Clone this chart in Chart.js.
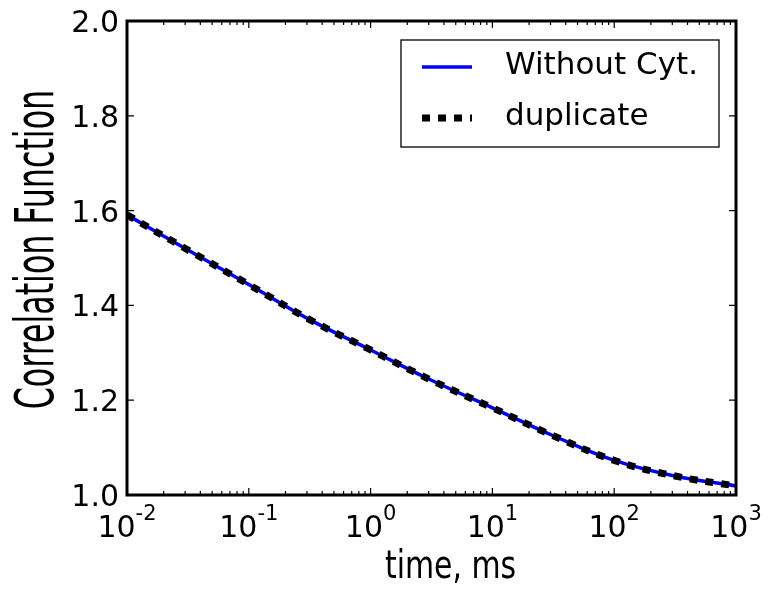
<!DOCTYPE html>
<html>
<head>
<meta charset="utf-8">
<script src="https://cdn.jsdelivr.net/npm/chart.js@4"></script>
<style>
  html, body { margin: 0; padding: 0; background: #fff; }
  #wrap { width: 767px; height: 590px; }
</style>
</head>
<body>
<div id="wrap"><canvas id="corrChart" width="767" height="590"></canvas></div>
<script>
// values
const times = [0.01, 0.0316, 0.1, 0.316, 1, 3.16, 10, 31.6, 100, 316, 1000];
const withoutCyt = [1.591, 1.517, 1.444, 1.370, 1.306, 1.242, 1.184, 1.125, 1.073, 1.040, 1.019];
const duplicate = [1.591, 1.517, 1.444, 1.370, 1.306, 1.242, 1.184, 1.125, 1.073, 1.040, 1.019];
const seriesNames = ['Without Cyt.', 'duplicate'];
const xExponents = [-2, -1, 0, 1, 2, 3];
const yTicks = [1.0, 1.2, 1.4, 1.6, 1.8, 2.0];

const TICK_FONT = '30px "DejaVu Sans"';
const SUP_FONT = '21px "DejaVu Sans"';
const LEG_FONT = '31px "DejaVu Sans"';

// draw text squeezed so its ink fits a given length
function squeezedText(ctx, text, font, len) {
  ctx.font = font;
  const m = ctx.measureText(text);
  const w = m.actualBoundingBoxRight + m.actualBoundingBoxLeft;
  ctx.save();
  ctx.scale(len / w, 1);
  ctx.fillText(text, m.actualBoundingBoxLeft, 0);
  ctx.restore();
}

const framePlugin = {
  id: 'frame',
  afterDatasetsDraw(chart) {
    const ctx = chart.ctx;
    const a = chart.chartArea;
    const xs = chart.scales.x, ys = chart.scales.y;
    ctx.save();
    ctx.strokeStyle = '#000';

    // ticks, inside, on all four sides
    ctx.lineWidth = 1.2;
    ctx.beginPath();
    xExponents.forEach(function (e, i) {
      const base = Math.pow(10, e);
      const px = xs.getPixelForValue(base);
      ctx.moveTo(px, a.bottom); ctx.lineTo(px, a.bottom - 7);
      ctx.moveTo(px, a.top); ctx.lineTo(px, a.top + 7);
      if (i < xExponents.length - 1) {
        for (let k = 2; k <= 9; k++) {
          const mx = xs.getPixelForValue(base * k);
          ctx.moveTo(mx, a.bottom); ctx.lineTo(mx, a.bottom - 4);
          ctx.moveTo(mx, a.top); ctx.lineTo(mx, a.top + 4);
        }
      }
    });
    yTicks.forEach(function (v) {
      const py = ys.getPixelForValue(v);
      ctx.moveTo(a.left, py); ctx.lineTo(a.left + 7, py);
      ctx.moveTo(a.right, py); ctx.lineTo(a.right - 7, py);
    });
    ctx.stroke();

    // frame
    ctx.lineWidth = 3;
    ctx.strokeRect(a.left, a.top, a.right - a.left, a.bottom - a.top);

    // y tick labels
    ctx.fillStyle = '#000';
    ctx.font = TICK_FONT;
    ctx.textAlign = 'right';
    ctx.textBaseline = 'alphabetic';
    yTicks.forEach(function (v) {
      ctx.fillText(v.toFixed(1), a.left - 8, ys.getPixelForValue(v) + 11);
    });

    // x tick labels as 10 with a raised exponent
    ctx.textAlign = 'left';
    xExponents.forEach(function (e) {
      const px = xs.getPixelForValue(Math.pow(10, e));
      const ex = e < 0 ? '-' + Math.abs(e) : String(e);
      ctx.font = TICK_FONT;
      const w1 = ctx.measureText('10').width;
      ctx.font = SUP_FONT;
      const w2 = ctx.measureText(ex).width;
      const x0 = px - (w1 + w2) / 2;
      ctx.font = TICK_FONT;
      ctx.fillText('10', x0, 537);
      ctx.font = SUP_FONT;
      ctx.fillText(ex, x0 + w1, 520);
    });

    // axis titles in a narrow face
    ctx.save();
    ctx.translate(385, 578);
    squeezedText(ctx, 'time, ms', '39px "DejaVu Sans Condensed", "DejaVu Sans"', 130);
    ctx.restore();

    ctx.save();
    ctx.translate(53, 408);
    ctx.rotate(-Math.PI / 2);
    squeezedText(ctx, 'Correlation Function', '300 53px "DejaVu Sans Condensed", "DejaVu Sans"', 316);
    ctx.restore();

    // legend box
    const lx = 401, ly = 40, lw = 318, lh = 107;
    ctx.fillStyle = '#fff';
    ctx.fillRect(lx, ly, lw, lh);
    ctx.lineWidth = 1.3;
    ctx.strokeStyle = '#000';
    ctx.strokeRect(lx, ly, lw, lh);

    const ds = chart.data.datasets;
    const rows = [67, 118];
    ds.forEach(function (d, i) {
      const yy = rows[i];
      ctx.save();
      ctx.strokeStyle = d.borderColor;
      ctx.lineWidth = d.borderWidth;
      ctx.setLineDash(d.borderDash || []);
      ctx.lineCap = 'butt';
      ctx.beginPath();
      ctx.moveTo(422, yy);
      ctx.lineTo(472, yy);
      ctx.stroke();
      ctx.restore();
      ctx.fillStyle = '#000';
      ctx.font = LEG_FONT;
      ctx.textAlign = 'left';
      ctx.fillText(d.label, 505, yy + 7);
    });
    ctx.restore();
  }
};

const ctx = document.getElementById('corrChart').getContext('2d');
new Chart(ctx, {
  type: 'line',
  data: {
    labels: times,
    datasets: [
      {
        label: seriesNames[0],
        data: times.map(function (t, i) { return { x: t, y: withoutCyt[i] }; }),
        borderColor: '#0000ff',
        borderWidth: 3.5,
        pointRadius: 0,
        tension: 0.4,
        order: 2
      },
      {
        label: seriesNames[1],
        data: times.map(function (t, i) { return { x: t, y: duplicate[i] }; }),
        borderColor: '#000000',
        borderWidth: 7,
        borderDash: [8, 8],
        borderCapStyle: 'butt',
        pointRadius: 0,
        tension: 0.4,
        order: 1
      }
    ]
  },
  options: {
    responsive: false,
    animation: false,
    layout: { padding: { top: 21, right: 31, left: 0, bottom: 0 } },
    plugins: { legend: { display: false }, tooltip: { enabled: false } },
    scales: {
      x: {
        type: 'logarithmic',
        min: 0.01,
        max: 1000,
        grid: { display: false },
        border: { display: false },
        ticks: { display: false },
        afterFit: function (s) { s.height = 95; }
      },
      y: {
        min: 1.0,
        max: 2.0,
        grid: { display: false },
        border: { display: false },
        ticks: { display: false },
        afterFit: function (s) { s.width = 127; }
      }
    }
  },
  plugins: [framePlugin]
});
</script>
</body>
</html>
